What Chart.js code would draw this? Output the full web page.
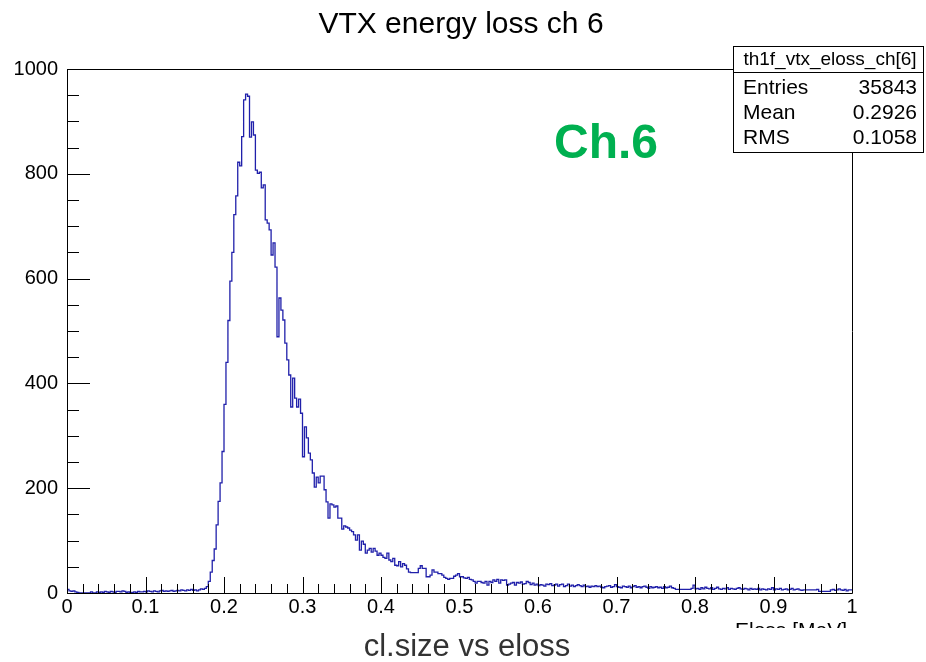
<!DOCTYPE html>
<html>
<head>
<meta charset="utf-8">
<title>VTX energy loss ch 6</title>
<script src="https://cdn.jsdelivr.net/npm/chart.js@4/dist/chart.umd.min.js"></script>
<style>
    html, body { margin: 0; padding: 0; background: #fff; }
    #grafico { display: block; }
</style>
</head>
<body>
<canvas id="grafico" width="926" height="662"></canvas>
<script>
// histogram binning (th1f_vtx_eloss_ch[6])
const N_BINS = 400;
const X_MIN = 0;
const X_MAX = 1;

// bin contents
const binCounts = [
    // 0.000 - 0.180
    6, 7, 4, 3, 4, 2, 1, 0, 0, 0, 0, 0, 0, 2, 0, 0, 2, 1, 2, 1,
    3, 2, 1, 3, 2, 1, 3, 3, 2, 4, 3, 1, 2, 0, 1, 2, 1, 3, 2, 2,
    3, 2, 4, 3, 2, 4, 3, 2, 4, 5, 3, 4, 3, 4, 5, 3, 4, 5, 4, 6,
    5, 4, 6, 5, 7, 5, 6, 4, 6, 8, 7, 9,
    // rise + peak
    12, 22, 40, 62, 84, 130, 175, 210, 270, 360, 440, 520, 595, 650, 722, 758, 822,
    815, 871, 941, 952, 948, 870, 899, 874, 807, 801, 803, 773, 779, 712, 706, 693,
    645, 668, 622, 489, 563, 540, 521, 477, 445, 416, 355, 410, 372, 355, 370, 343,
    260, 317, 296, 267, 254, 229, 202, 221, 210, 223, 223, 197, 174, 143, 170, 168,
    164, 166, 143,
    // tail 0.35 - 0.575
    143, 122, 128, 126, 124, 120, 117, 111, 101, 111, 82, 99, 93, 76, 82, 85, 78, 85, 80, 72,
    76, 72, 68, 66, 76, 63, 60, 66, 53, 52, 60, 50, 56, 53, 46, 40, 39, 39, 39, 39,
    47, 52, 47, 47, 31, 31, 34, 44, 40, 40, 37, 37, 34, 30, 28, 26, 28, 28, 32, 34,
    37, 31, 31, 29, 28, 30, 26, 25, 22, 19, 22, 22, 20, 19, 22, 15, 22, 20, 25, 22,
    26, 19, 25, 24, 25, 15, 17, 19, 20, 15, 20,
    // far tail 0.5775 - 1.0
    19, 21, 17, 18, 22, 20, 16, 19, 15, 17,
    14, 16, 15, 13, 17, 16, 18, 14, 15, 17,
    13, 16, 17, 12, 14, 17, 13, 15, 12, 14,
    16, 14, 12, 15, 12, 13, 11, 13, 12, 14,
    12, 13, 11, 10, 12, 13, 14, 11, 12, 16,
    12, 11, 10, 13, 12, 11, 13, 10, 12, 14,
    11, 12, 10, 12, 13, 11, 9, 12, 10, 11,
    12, 10, 11, 9, 12, 10, 11, 13, 10, 9,
    7, 7, 7, 7, 7, 7, 7, 7, 9, 15,
    8, 9, 7, 10, 8, 11, 9, 8, 10, 7,
    9, 11, 8, 7, 9, 8, 10, 7, 9, 8,
    7, 9, 10, 8, 7, 9, 8, 6, 9, 7,
    8, 7, 9, 6, 8, 7, 6, 8, 7, 10,
    6, 8, 7, 9, 6, 7, 8, 6, 7, 9,
    6, 7, 8, 6, 5, 6, 6, 6, 6, 6,
    6, 6, 7, 3, 3, 3, 3, 3, 3, 6,
    7, 5, 6, 8, 6, 5, 7, 4, 6
];

const xTickValues = [0, 0.1, 0.2, 0.3, 0.4, 0.5, 0.6, 0.7, 0.8, 0.9, 1];
const xTickLabels = ['0', '0.1', '0.2', '0.3', '0.4', '0.5', '0.6', '0.7', '0.8', '0.9', '1'];
const yTickValues = [0, 200, 400, 600, 800, 1000];

const statRows = [
    ['Entries', '35843'],
    ['Mean', '0.2926'],
    ['RMS', '0.1058']
];

const FONT = '"Liberation Sans", Arial, Helvetica, sans-serif';

document.addEventListener('DOMContentLoaded', () => {
    const ctx = document.getElementById('grafico').getContext('2d');
    const binWidth = (X_MAX - X_MIN) / N_BINS;

    // step points at the lower edge of every bin, plus the upper edge of the last one
    const points = binCounts.map((c, i) => ({ x: X_MIN + i * binWidth, y: c }));
    points.push({ x: X_MAX, y: binCounts[binCounts.length - 1] });

    // ROOT style frame and inward ticks
    const rootFrame = {
        id: 'rootFrame',
        afterDatasetsDraw(chart) {
            const { ctx, chartArea: a, scales } = chart;
            const xs = scales.x, ys = scales.y;
            ctx.save();
            ctx.strokeStyle = '#000';
            ctx.lineWidth = 1;
            ctx.beginPath();
            ctx.rect(Math.round(a.left) + 0.5, Math.round(a.top) + 0.5,
                Math.round(a.right - a.left), Math.round(a.bottom - a.top));
            ctx.stroke();

            ctx.beginPath();
            for (let v = 0; v <= 1000.001; v += 50) {
                const y = Math.round(ys.getPixelForValue(v)) + 0.5;
                const len = (v % 200 === 0) ? 23 : 12;
                ctx.moveTo(a.left, y);
                ctx.lineTo(a.left + len, y);
            }
            for (let k = 0; k <= 50; k++) {
                const x = Math.round(xs.getPixelForValue(k * 0.02)) + 0.5;
                const len = (k % 5 === 0) ? 16 : 9;
                ctx.moveTo(x, a.bottom);
                ctx.lineTo(x, a.bottom - len);
            }
            ctx.stroke();
            ctx.restore();
        },
        afterDraw(chart) {
            const ctx = chart.ctx;
            ctx.save();

            // title
            ctx.fillStyle = '#000';
            ctx.textAlign = 'center';
            ctx.textBaseline = 'alphabetic';
            ctx.font = `30px ${FONT}`;
            ctx.fillText('VTX energy loss ch 6', 461, 33);

            // x axis title, cut at the bottom like the original canvas
            ctx.save();
            ctx.beginPath();
            ctx.rect(0, 0, 926, 628);
            ctx.clip();
            ctx.textAlign = 'right';
            ctx.font = `21px ${FONT}`;
            ctx.fillText('Eloss [MeV]', 847, 637);
            ctx.restore();

            // caption below
            ctx.textAlign = 'center';
            ctx.fillStyle = '#333';
            ctx.font = `31px ${FONT}`;
            ctx.fillText('cl.size vs eloss', 467, 656);

            // Ch.6 label
            ctx.textAlign = 'left';
            ctx.fillStyle = '#00b050';
            ctx.font = `bold 48px ${FONT}`;
            ctx.fillText('Ch.6', 554, 158);

            // stats box
            const bx = 733, by = 46, bw = 190, bh = 106;
            ctx.fillStyle = '#fff';
            ctx.fillRect(bx, by, bw, bh);
            ctx.strokeStyle = '#000';
            ctx.lineWidth = 1;
            ctx.strokeRect(bx + 0.5, by + 0.5, bw, bh);
            ctx.beginPath();
            ctx.moveTo(bx, 72.5);
            ctx.lineTo(bx + bw, 72.5);
            ctx.stroke();

            ctx.fillStyle = '#000';
            ctx.textAlign = 'center';
            ctx.font = `19px ${FONT}`;
            ctx.fillText('th1f_vtx_eloss_ch[6]', bx + bw / 2 + 2, 65);

            ctx.font = `21px ${FONT}`;
            statRows.forEach(([label, value], i) => {
                const y = 94 + i * 25;
                ctx.textAlign = 'left';
                ctx.fillText(label, 743, y);
                ctx.textAlign = 'right';
                ctx.fillText(value, 917, y);
            });
            ctx.restore();
        }
    };

    new Chart(ctx, {
        type: 'line',
        data: {
            datasets: [{
                data: points,
                stepped: 'after',
                borderColor: '#2020aa',
                borderWidth: 1.3,
                pointRadius: 0,
                fill: false
            }]
        },
        options: {
            responsive: false,
            animation: false,
            layout: { padding: { left: 0, top: 69, right: 74, bottom: 0 } },
            plugins: {
                legend: { display: false },
                tooltip: { enabled: false }
            },
            scales: {
                x: {
                    type: 'linear',
                    min: X_MIN,
                    max: X_MAX,
                    afterFit: s => { s.height = 69; },
                    afterBuildTicks: s => { s.ticks = xTickValues.map(v => ({ value: v })); },
                    grid: { display: false, drawTicks: false },
                    border: { display: false },
                    ticks: {
                        color: '#000',
                        font: { family: FONT, size: 20 },
                        padding: 2,
                        maxRotation: 0,
                        autoSkip: false,
                        callback: (v, i) => xTickLabels[i]
                    }
                },
                y: {
                    min: 0,
                    max: 1000,
                    afterFit: s => { s.width = 67; },
                    afterBuildTicks: s => { s.ticks = yTickValues.map(v => ({ value: v })); },
                    grid: { display: false, drawTicks: false },
                    border: { display: false },
                    ticks: {
                        color: '#000',
                        font: { family: FONT, size: 20 },
                        padding: 9,
                        autoSkip: false,
                        callback: v => String(v)
                    }
                }
            }
        },
        plugins: [rootFrame]
    });
});
</script>
</body>
</html>
